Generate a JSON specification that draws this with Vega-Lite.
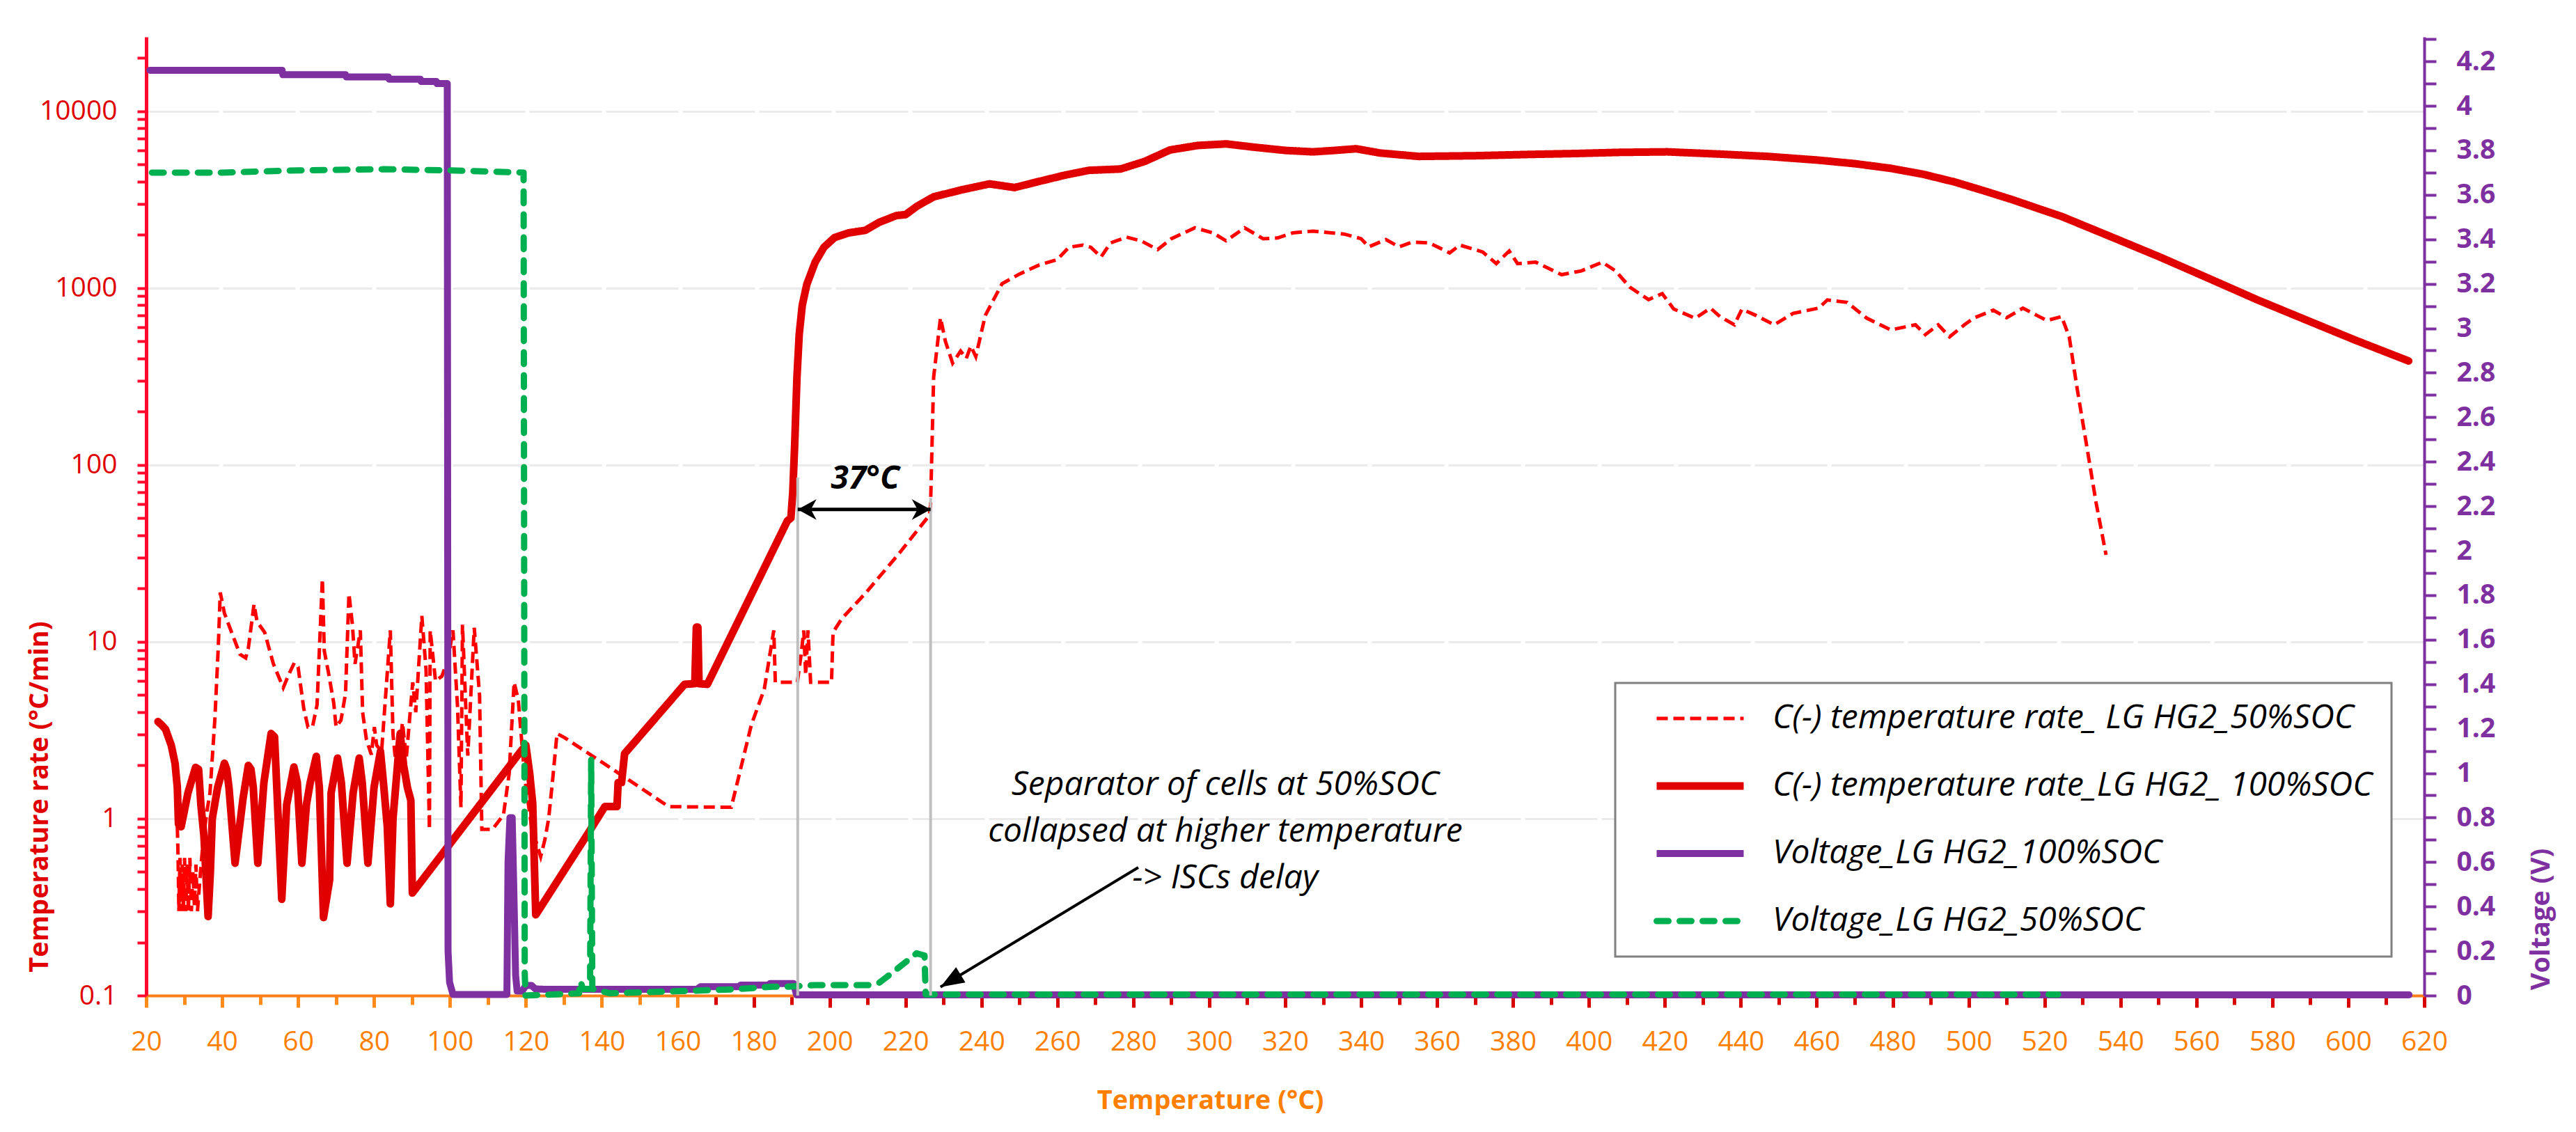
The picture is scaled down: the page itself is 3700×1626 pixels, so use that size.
{
  "$schema": "https://vega.github.io/schema/vega-lite/v6.json",
  "description": "C(-) temperature rate and voltage of LG HG2 cells at 50% and 100% SOC versus temperature.",
  "width": 3272,
  "height": 1377,
  "autosize": {"type": "none"},
  "padding": {"left": 210, "top": 53, "right": 218, "bottom": 196},
  "background": "white",
  "config": {
    "font": "Open Sans",
    "view": {"stroke": null},
    "axis": {"labelFont": "Open Sans", "titleFont": "Open Sans"},
    "legend": {"labelFont": "Open Sans"},
    "text": {"font": "Open Sans"}
  },
  "datasets": {
    "rate": [
      {"s": "A", "t": 28.2, "v": 0.9}, {"s": "A", "t": 28.4, "v": 0.6}, {"s": "A", "t": 28.6, "v": 0.3},
      {"s": "A", "t": 28.9, "v": 0.6}, {"s": "A", "t": 29.2, "v": 0.3}, {"s": "A", "t": 29.5, "v": 0.55},
      {"s": "A", "t": 29.8, "v": 0.3}, {"s": "A", "t": 30.1, "v": 0.6}, {"s": "A", "t": 30.4, "v": 0.3},
      {"s": "A", "t": 30.8, "v": 0.55}, {"s": "A", "t": 31.1, "v": 0.3}, {"s": "A", "t": 31.5, "v": 0.6},
      {"s": "A", "t": 31.9, "v": 0.3}, {"s": "A", "t": 32.3, "v": 0.5}, {"s": "A", "t": 32.7, "v": 0.32},
      {"s": "A", "t": 33.1, "v": 0.55}, {"s": "A", "t": 33.5, "v": 0.3}, {"s": "A", "t": 34.3, "v": 0.5},
      {"s": "A", "t": 35.0, "v": 0.75}, {"s": "A", "t": 36.0, "v": 1.1}, {"s": "A", "t": 36.8, "v": 1.4},
      {"s": "A", "t": 38.1, "v": 3.7}, {"s": "A", "t": 39.0, "v": 9.5}, {"s": "A", "t": 39.5, "v": 19},
      {"s": "A", "t": 40.6, "v": 14.5}, {"s": "A", "t": 42.7, "v": 11}, {"s": "A", "t": 44.7, "v": 8.5},
      {"s": "A", "t": 46.2, "v": 8.1}, {"s": "A", "t": 46.9, "v": 9.2}, {"s": "A", "t": 48.4, "v": 16.3},
      {"s": "A", "t": 49.2, "v": 13}, {"s": "A", "t": 51.2, "v": 11.3}, {"s": "A", "t": 53.5, "v": 7.5},
      {"s": "A", "t": 56.1, "v": 5.5}, {"s": "A", "t": 57.5, "v": 6.5}, {"s": "A", "t": 59.0, "v": 7.6},
      {"s": "A", "t": 60.0, "v": 7.2}, {"s": "A", "t": 61.5, "v": 4.2}, {"s": "A", "t": 62.6, "v": 3.3},
      {"s": "A", "t": 63.8, "v": 3.3}, {"s": "A", "t": 65.0, "v": 4.4}, {"s": "A", "t": 66.4, "v": 22.7},
      {"s": "A", "t": 66.9, "v": 8.9}, {"s": "A", "t": 68.0, "v": 6.7}, {"s": "A", "t": 69.4, "v": 4.5},
      {"s": "A", "t": 70.0, "v": 3.3}, {"s": "A", "t": 71.3, "v": 3.6}, {"s": "A", "t": 72.5, "v": 5.1},
      {"s": "A", "t": 73.4, "v": 18.7}, {"s": "A", "t": 74.3, "v": 12.6}, {"s": "A", "t": 75.0, "v": 7.5},
      {"s": "A", "t": 76.4, "v": 11.6}, {"s": "A", "t": 77.0, "v": 4}, {"s": "A", "t": 78.0, "v": 2.8},
      {"s": "A", "t": 79.3, "v": 2.3}, {"s": "A", "t": 80.1, "v": 3.3}, {"s": "A", "t": 80.7, "v": 2.6},
      {"s": "A", "t": 82.0, "v": 2.4}, {"s": "A", "t": 84.3, "v": 11.6}, {"s": "A", "t": 85.0, "v": 3},
      {"s": "A", "t": 86.0, "v": 1.8}, {"s": "A", "t": 87.5, "v": 3.5}, {"s": "A", "t": 88.5, "v": 2.2},
      {"s": "A", "t": 90.2, "v": 5.9}, {"s": "A", "t": 91.0, "v": 4}, {"s": "A", "t": 92.6, "v": 14},
      {"s": "A", "t": 93.7, "v": 7}, {"s": "A", "t": 94.6, "v": 0.87}, {"s": "A", "t": 94.8, "v": 11.6},
      {"s": "A", "t": 96.2, "v": 6}, {"s": "A", "t": 97.9, "v": 6.4}, {"s": "A", "t": 99.5, "v": 8},
      {"s": "A", "t": 100.8, "v": 11.6}, {"s": "A", "t": 102.0, "v": 4.3}, {"s": "A", "t": 102.9, "v": 1.16},
      {"s": "A", "t": 103.3, "v": 12.5}, {"s": "A", "t": 104.7, "v": 2.27}, {"s": "A", "t": 106.4, "v": 12},
      {"s": "A", "t": 107.8, "v": 5}, {"s": "A", "t": 108.4, "v": 0.87}, {"s": "A", "t": 111.2, "v": 0.87},
      {"s": "A", "t": 114.1, "v": 1.05}, {"s": "A", "t": 115.6, "v": 1.8}, {"s": "A", "t": 116.9, "v": 5.9},
      {"s": "A", "t": 118.0, "v": 4.7}, {"s": "A", "t": 119.7, "v": 1.7}, {"s": "A", "t": 121.5, "v": 0.9},
      {"s": "A", "t": 123.9, "v": 0.61}, {"s": "A", "t": 125.0, "v": 0.76}, {"s": "A", "t": 126.0, "v": 1.0},
      {"s": "A", "t": 127.1, "v": 1.7}, {"s": "A", "t": 128.2, "v": 3.03}, {"s": "A", "t": 130.2, "v": 2.87},
      {"s": "A", "t": 145.6, "v": 1.74}, {"s": "A", "t": 157.6, "v": 1.17}, {"s": "A", "t": 174.1, "v": 1.16},
      {"s": "A", "t": 179.4, "v": 3.4}, {"s": "A", "t": 182.8, "v": 5.4}, {"s": "A", "t": 185.3, "v": 11.6},
      {"s": "A", "t": 185.7, "v": 5.9}, {"s": "A", "t": 191.5, "v": 5.9}, {"s": "A", "t": 192.5, "v": 8.5},
      {"s": "A", "t": 193.2, "v": 11.6}, {"s": "A", "t": 193.7, "v": 6.5}, {"s": "A", "t": 194.3, "v": 11.6},
      {"s": "A", "t": 195.0, "v": 5.9}, {"s": "A", "t": 200.5, "v": 5.9}, {"s": "A", "t": 200.9, "v": 11.3},
      {"s": "A", "t": 203.2, "v": 13.5}, {"s": "A", "t": 209.6, "v": 19}, {"s": "A", "t": 218.0, "v": 31},
      {"s": "A", "t": 226.3, "v": 52}, {"s": "A", "t": 226.6, "v": 60}, {"s": "A", "t": 227.4, "v": 313},
      {"s": "A", "t": 229.2, "v": 680}, {"s": "A", "t": 230.5, "v": 500}, {"s": "A", "t": 232.4, "v": 376},
      {"s": "A", "t": 234.5, "v": 440}, {"s": "A", "t": 236.0, "v": 400}, {"s": "A", "t": 237.2, "v": 470},
      {"s": "A", "t": 238.5, "v": 410}, {"s": "A", "t": 241.0, "v": 700}, {"s": "A", "t": 245.4, "v": 1057},
      {"s": "A", "t": 250.0, "v": 1200}, {"s": "A", "t": 255.2, "v": 1350}, {"s": "A", "t": 260.0, "v": 1450},
      {"s": "A", "t": 263.0, "v": 1700}, {"s": "A", "t": 266.7, "v": 1750}, {"s": "A", "t": 268.8, "v": 1700},
      {"s": "A", "t": 271.5, "v": 1500}, {"s": "A", "t": 274.0, "v": 1800}, {"s": "A", "t": 278.2, "v": 1940},
      {"s": "A", "t": 282.0, "v": 1850}, {"s": "A", "t": 286.4, "v": 1650}, {"s": "A", "t": 290.0, "v": 1900},
      {"s": "A", "t": 296.2, "v": 2190}, {"s": "A", "t": 301.0, "v": 2050}, {"s": "A", "t": 304.4, "v": 1850},
      {"s": "A", "t": 309.3, "v": 2190}, {"s": "A", "t": 314.2, "v": 1900}, {"s": "A", "t": 318.0, "v": 1920},
      {"s": "A", "t": 322.0, "v": 2050}, {"s": "A", "t": 327.3, "v": 2100}, {"s": "A", "t": 335.5, "v": 2020},
      {"s": "A", "t": 340.0, "v": 1900}, {"s": "A", "t": 342.0, "v": 1710}, {"s": "A", "t": 346.5, "v": 1880},
      {"s": "A", "t": 350.0, "v": 1710}, {"s": "A", "t": 353.5, "v": 1820}, {"s": "A", "t": 358.0, "v": 1800},
      {"s": "A", "t": 363.3, "v": 1580}, {"s": "A", "t": 366.0, "v": 1750}, {"s": "A", "t": 372.0, "v": 1600},
      {"s": "A", "t": 375.6, "v": 1375}, {"s": "A", "t": 379.0, "v": 1620}, {"s": "A", "t": 381.2, "v": 1375},
      {"s": "A", "t": 386.0, "v": 1400}, {"s": "A", "t": 392.8, "v": 1190}, {"s": "A", "t": 398.0, "v": 1250},
      {"s": "A", "t": 403.5, "v": 1400}, {"s": "A", "t": 407.0, "v": 1250}, {"s": "A", "t": 410.8, "v": 1010},
      {"s": "A", "t": 415.7, "v": 860}, {"s": "A", "t": 419.3, "v": 930}, {"s": "A", "t": 422.3, "v": 762},
      {"s": "A", "t": 428.0, "v": 675}, {"s": "A", "t": 432.0, "v": 770}, {"s": "A", "t": 434.5, "v": 690},
      {"s": "A", "t": 438.3, "v": 620}, {"s": "A", "t": 440.3, "v": 760}, {"s": "A", "t": 444.0, "v": 700},
      {"s": "A", "t": 448.8, "v": 620}, {"s": "A", "t": 453.8, "v": 720}, {"s": "A", "t": 460.5, "v": 770},
      {"s": "A", "t": 462.8, "v": 857}, {"s": "A", "t": 468.0, "v": 830}, {"s": "A", "t": 473.1, "v": 677},
      {"s": "A", "t": 479.5, "v": 580}, {"s": "A", "t": 486.0, "v": 620}, {"s": "A", "t": 488.6, "v": 545},
      {"s": "A", "t": 492.0, "v": 620}, {"s": "A", "t": 495.0, "v": 530}, {"s": "A", "t": 498.9, "v": 620},
      {"s": "A", "t": 501.4, "v": 677}, {"s": "A", "t": 506.5, "v": 750}, {"s": "A", "t": 510.0, "v": 680},
      {"s": "A", "t": 514.3, "v": 770}, {"s": "A", "t": 518.0, "v": 700}, {"s": "A", "t": 520.6, "v": 655},
      {"s": "A", "t": 524.5, "v": 690}, {"s": "A", "t": 526.5, "v": 530}, {"s": "A", "t": 528.5, "v": 277},
      {"s": "A", "t": 531.0, "v": 132}, {"s": "A", "t": 533.6, "v": 60.7}, {"s": "A", "t": 536.2, "v": 31},

      {"s": "B", "t": 23.1, "v": 3.54}, {"s": "B", "t": 24.0, "v": 3.4}, {"s": "B", "t": 25.1, "v": 3.2},
      {"s": "B", "t": 25.8, "v": 2.9}, {"s": "B", "t": 26.6, "v": 2.6}, {"s": "B", "t": 27.6, "v": 2.05},
      {"s": "B", "t": 28.2, "v": 1.5}, {"s": "B", "t": 28.5, "v": 0.93}, {"s": "B", "t": 29.2, "v": 0.9},
      {"s": "B", "t": 31.0, "v": 1.4}, {"s": "B", "t": 33.0, "v": 1.95}, {"s": "B", "t": 33.8, "v": 1.9},
      {"s": "B", "t": 34.4, "v": 1.2}, {"s": "B", "t": 35.2, "v": 0.8}, {"s": "B", "t": 36.3, "v": 0.28},
      {"s": "B", "t": 36.9, "v": 0.5}, {"s": "B", "t": 37.4, "v": 1.0}, {"s": "B", "t": 38.8, "v": 1.5},
      {"s": "B", "t": 40.6, "v": 2.06}, {"s": "B", "t": 41.2, "v": 1.9}, {"s": "B", "t": 41.8, "v": 1.5},
      {"s": "B", "t": 43.4, "v": 0.56}, {"s": "B", "t": 45.5, "v": 1.3}, {"s": "B", "t": 46.9, "v": 2.0},
      {"s": "B", "t": 47.6, "v": 1.9}, {"s": "B", "t": 48.2, "v": 1.5}, {"s": "B", "t": 49.4, "v": 0.56},
      {"s": "B", "t": 51.0, "v": 1.6}, {"s": "B", "t": 52.9, "v": 3.03}, {"s": "B", "t": 53.8, "v": 2.9},
      {"s": "B", "t": 54.4, "v": 1.5}, {"s": "B", "t": 55.7, "v": 0.35}, {"s": "B", "t": 57.0, "v": 1.2},
      {"s": "B", "t": 58.9, "v": 1.96}, {"s": "B", "t": 59.8, "v": 1.6}, {"s": "B", "t": 61.0, "v": 0.56},
      {"s": "B", "t": 62.2, "v": 1.2}, {"s": "B", "t": 63.2, "v": 1.6}, {"s": "B", "t": 64.8, "v": 2.25},
      {"s": "B", "t": 65.6, "v": 1.5}, {"s": "B", "t": 66.7, "v": 0.276}, {"s": "B", "t": 68.3, "v": 0.45},
      {"s": "B", "t": 68.7, "v": 1.4}, {"s": "B", "t": 70.4, "v": 2.2}, {"s": "B", "t": 71.4, "v": 1.6},
      {"s": "B", "t": 72.9, "v": 0.56}, {"s": "B", "t": 74.5, "v": 1.4}, {"s": "B", "t": 76.1, "v": 2.2},
      {"s": "B", "t": 76.9, "v": 1.6}, {"s": "B", "t": 78.4, "v": 0.56}, {"s": "B", "t": 80.0, "v": 1.5},
      {"s": "B", "t": 81.7, "v": 2.4}, {"s": "B", "t": 82.6, "v": 1.5}, {"s": "B", "t": 83.5, "v": 0.9},
      {"s": "B", "t": 84.3, "v": 0.33}, {"s": "B", "t": 85.0, "v": 1.0}, {"s": "B", "t": 86.9, "v": 3.03},
      {"s": "B", "t": 87.8, "v": 2.0}, {"s": "B", "t": 88.8, "v": 1.5}, {"s": "B", "t": 89.7, "v": 1.27},
      {"s": "B", "t": 90.1, "v": 0.38}, {"s": "B", "t": 118.5, "v": 2.38}, {"s": "B", "t": 120.0, "v": 2.6},
      {"s": "B", "t": 121.0, "v": 1.8}, {"s": "B", "t": 121.8, "v": 1.22}, {"s": "B", "t": 122.6, "v": 0.286},
      {"s": "B", "t": 136.6, "v": 0.84}, {"s": "B", "t": 140.8, "v": 1.17}, {"s": "B", "t": 144.0, "v": 1.17},
      {"s": "B", "t": 144.3, "v": 1.6}, {"s": "B", "t": 145.2, "v": 1.6}, {"s": "B", "t": 146.0, "v": 2.33},
      {"s": "B", "t": 161.8, "v": 5.75}, {"s": "B", "t": 164.5, "v": 5.8}, {"s": "B", "t": 164.9, "v": 12.1},
      {"s": "B", "t": 165.3, "v": 12.1}, {"s": "B", "t": 165.6, "v": 5.8}, {"s": "B", "t": 167.8, "v": 5.75},
      {"s": "B", "t": 188.9, "v": 48.4}, {"s": "B", "t": 189.8, "v": 50}, {"s": "B", "t": 190.3, "v": 70},
      {"s": "B", "t": 190.8, "v": 130}, {"s": "B", "t": 191.4, "v": 313}, {"s": "B", "t": 192.0, "v": 550},
      {"s": "B", "t": 192.8, "v": 800}, {"s": "B", "t": 194.0, "v": 1050}, {"s": "B", "t": 196.2, "v": 1400},
      {"s": "B", "t": 198.5, "v": 1700}, {"s": "B", "t": 201.3, "v": 1930}, {"s": "B", "t": 205.0, "v": 2050},
      {"s": "B", "t": 209.4, "v": 2120}, {"s": "B", "t": 213.0, "v": 2350}, {"s": "B", "t": 217.6, "v": 2570},
      {"s": "B", "t": 220.0, "v": 2600}, {"s": "B", "t": 223.0, "v": 2900}, {"s": "B", "t": 227.4, "v": 3280},
      {"s": "B", "t": 235.0, "v": 3600}, {"s": "B", "t": 242.1, "v": 3880}, {"s": "B", "t": 248.7, "v": 3700},
      {"s": "B", "t": 255.0, "v": 4000}, {"s": "B", "t": 262.0, "v": 4350}, {"s": "B", "t": 268.3, "v": 4630},
      {"s": "B", "t": 276.6, "v": 4710}, {"s": "B", "t": 283.0, "v": 5200}, {"s": "B", "t": 289.6, "v": 6030},
      {"s": "B", "t": 297.0, "v": 6400}, {"s": "B", "t": 304.4, "v": 6530}, {"s": "B", "t": 312.0, "v": 6250},
      {"s": "B", "t": 320.0, "v": 6000}, {"s": "B", "t": 327.3, "v": 5890}, {"s": "B", "t": 333.0, "v": 6000},
      {"s": "B", "t": 338.7, "v": 6130}, {"s": "B", "t": 345.0, "v": 5800}, {"s": "B", "t": 355.1, "v": 5550},
      {"s": "B", "t": 370.0, "v": 5600}, {"s": "B", "t": 385.0, "v": 5700}, {"s": "B", "t": 396.1, "v": 5760},
      {"s": "B", "t": 408.0, "v": 5850}, {"s": "B", "t": 420.6, "v": 5890}, {"s": "B", "t": 434.4, "v": 5720},
      {"s": "B", "t": 447.0, "v": 5550}, {"s": "B", "t": 460.2, "v": 5290}, {"s": "B", "t": 470.0, "v": 5050},
      {"s": "B", "t": 479.5, "v": 4750}, {"s": "B", "t": 488.0, "v": 4400}, {"s": "B", "t": 496.3, "v": 3980},
      {"s": "B", "t": 504.0, "v": 3550}, {"s": "B", "t": 511.7, "v": 3150}, {"s": "B", "t": 518.0, "v": 2830},
      {"s": "B", "t": 524.5, "v": 2540}, {"s": "B", "t": 537.5, "v": 1950}, {"s": "B", "t": 550.3, "v": 1500},
      {"s": "B", "t": 563.2, "v": 1135}, {"s": "B", "t": 576.1, "v": 857}, {"s": "B", "t": 588.9, "v": 660},
      {"s": "B", "t": 601.8, "v": 508}, {"s": "B", "t": 615.9, "v": 387}
    ],
    "volt": [
      {"s": "C", "t": 21.0, "v": 4.16}, {"s": "C", "t": 55.8, "v": 4.16}, {"s": "C", "t": 56.0, "v": 4.14},
      {"s": "C", "t": 72.5, "v": 4.14}, {"s": "C", "t": 72.7, "v": 4.13}, {"s": "C", "t": 83.8, "v": 4.13},
      {"s": "C", "t": 84.0, "v": 4.12}, {"s": "C", "t": 92.2, "v": 4.12}, {"s": "C", "t": 92.4, "v": 4.11},
      {"s": "C", "t": 96.4, "v": 4.11}, {"s": "C", "t": 96.6, "v": 4.1}, {"s": "C", "t": 99.3, "v": 4.1},
      {"s": "C", "t": 99.5, "v": 0.2}, {"s": "C", "t": 99.9, "v": 0.06}, {"s": "C", "t": 100.8, "v": 0.005},
      {"s": "C", "t": 115.0, "v": 0.005}, {"s": "C", "t": 115.3, "v": 0.6}, {"s": "C", "t": 115.8, "v": 0.8},
      {"s": "C", "t": 116.4, "v": 0.8}, {"s": "C", "t": 116.8, "v": 0.5}, {"s": "C", "t": 117.3, "v": 0.09},
      {"s": "C", "t": 117.7, "v": 0.02}, {"s": "C", "t": 119.0, "v": 0.02}, {"s": "C", "t": 120.0, "v": 0.045},
      {"s": "C", "t": 121.5, "v": 0.045}, {"s": "C", "t": 122.5, "v": 0.03}, {"s": "C", "t": 125.3, "v": 0.028},
      {"s": "C", "t": 165.0, "v": 0.028}, {"s": "C", "t": 166.0, "v": 0.04}, {"s": "C", "t": 176.0, "v": 0.04},
      {"s": "C", "t": 176.6, "v": 0.047}, {"s": "C", "t": 184.0, "v": 0.047}, {"s": "C", "t": 184.3, "v": 0.054},
      {"s": "C", "t": 190.5, "v": 0.054}, {"s": "C", "t": 191.3, "v": 0.003}, {"s": "C", "t": 616.0, "v": 0.003},

      {"s": "D", "t": 21.5, "v": 3.7}, {"s": "D", "t": 40.0, "v": 3.7}, {"s": "D", "t": 60.0, "v": 3.71},
      {"s": "D", "t": 82.5, "v": 3.715}, {"s": "D", "t": 100.0, "v": 3.71}, {"s": "D", "t": 110.0, "v": 3.705},
      {"s": "D", "t": 119.4, "v": 3.7}, {"s": "D", "t": 119.7, "v": 0.1}, {"s": "D", "t": 119.9, "v": 0.0},
      {"s": "D", "t": 134.0, "v": 0.01}, {"s": "D", "t": 134.4, "v": 0.064}, {"s": "D", "t": 135.0, "v": 0.03},
      {"s": "D", "t": 136.9, "v": 0.03}, {"s": "D", "t": 137.2, "v": 1.06}, {"s": "D", "t": 137.5, "v": 0.03},
      {"s": "D", "t": 142.2, "v": 0.01}, {"s": "D", "t": 161.1, "v": 0.02}, {"s": "D", "t": 175.0, "v": 0.028},
      {"s": "D", "t": 185.0, "v": 0.04}, {"s": "D", "t": 189.2, "v": 0.04}, {"s": "D", "t": 196.2, "v": 0.047},
      {"s": "D", "t": 210.3, "v": 0.047}, {"s": "D", "t": 213.1, "v": 0.058}, {"s": "D", "t": 217.3, "v": 0.113},
      {"s": "D", "t": 222.9, "v": 0.19}, {"s": "D", "t": 225.0, "v": 0.18}, {"s": "D", "t": 225.3, "v": 0.005},
      {"s": "D", "t": 523.6, "v": 0.005}
    ]
  },
  "resolve": {"scale": {"y": "independent"}},
  "layer": [
    {
      "data": {"name": "rate"},
      "encoding": {
        "x": {
          "field": "t", "type": "quantitative",
          "scale": {"domain": [20, 620], "nice": false, "zero": false},
          "axis": {
            "title": "Temperature (°C)", "titleColor": "#FF7F00", "titleFontSize": 38, "titleFontWeight": "bold",
            "titleX": 1528, "titleY": 162, "titleAlign": "center", "titleBaseline": "alphabetic",
            "values": [20, 30, 40, 50, 60, 70, 80, 90, 100, 110, 120, 130, 140, 150, 160, 170, 180, 190, 200, 210, 220, 230, 240, 250, 260, 270, 280, 290, 300, 310, 320, 330, 340, 350, 360, 370, 380, 390, 400, 410, 420, 430, 440, 450, 460, 470, 480, 490, 500, 510, 520, 530, 540, 550, 560, 570, 580, 590, 600, 610, 620],
            "labelExpr": "datum.value % 20 === 0 ? format(datum.value, 'd') : ''",
            "labelColor": "#FF7F00", "labelFontSize": 39, "labelBaseline": "alphabetic", "labelPadding": 61,
            "labelOverlap": false, "labelFlush": false,
            "domainColor": "#FF7F1A", "domainWidth": 4, "tickWidth": 5,
            "tickColor": {"condition": {"test": "datum.value < 170", "value": "#FF8C1A"}, "value": "#D90000"},
            "tickSize": {"condition": {"test": "datum.value % 20 === 0", "value": 17}, "value": 13},
            "grid": false
          }
        },
        "y": {
          "field": "v", "type": "quantitative",
          "scale": {"type": "log", "domain": [0.1, 26300], "nice": false},
          "axis": {
            "orient": "left",
            "title": "Temperature rate (°C/min)", "titleColor": "#E00000", "titleFontSize": 38, "titleFontWeight": "bold",
            "titleAngle": 270, "titleX": -153, "titleY": 1091, "titleAlign": "center", "titleBaseline": "middle",
            "values": [0.1, 0.2, 0.3, 0.4, 0.5, 0.6, 0.7, 0.8, 0.9, 1, 2, 3, 4, 5, 6, 7, 8, 9, 10, 20, 30, 40, 50, 60, 70, 80, 90, 100, 200, 300, 400, 500, 600, 700, 800, 900, 1000, 2000, 3000, 4000, 5000, 6000, 7000, 8000, 9000, 10000, 20000],
            "labelExpr": "abs(log(datum.value) / LN10 - round(log(datum.value) / LN10)) < 0.001 ? format(datum.value, '~g') : ''",
            "labelColor": "#E00000", "labelFontSize": 39, "labelPadding": 29, "labelOverlap": false,
            "domainColor": "#FF0A2D", "domainWidth": 5, "tickColor": "#FF0A2D", "tickWidth": 4, "tickSize": 13,
            "grid": true, "gridColor": "#EBEBEB", "gridWidth": 3, "gridDash": [104, 6],
            "gridOpacity": {"condition": {"test": "abs(log(datum.value) / LN10 - round(log(datum.value) / LN10)) < 0.001", "value": 1}, "value": 0}
          }
        },
        "color": {
          "field": "s", "type": "nominal",
          "scale": {"domain": ["A", "B", "C", "D"], "range": ["#FF0000", "#E00000", "#7F30A0", "#00B050"]},
          "legend": {
            "orient": "none", "legendX": 2110, "legendY": 928, "title": null, "direction": "vertical",
            "labelExpr": "datum.label === 'A' ? 'C(-) temperature rate_ LG HG2_50%SOC' : datum.label === 'B' ? 'C(-) temperature rate_LG HG2_ 100%SOC' : datum.label === 'C' ? 'Voltage_LG HG2_100%SOC' : 'Voltage_LG HG2_50%SOC'",
            "labelFontSize": 48, "labelFontStyle": "italic", "labelColor": "black", "labelLimit": 2000, "labelOffset": 80,
            "symbolType": "stroke", "symbolSize": 15625, "symbolStrokeWidth": 8, "symbolOffset": 71,
            "rowPadding": 49, "padding": 27,
            "strokeColor": "#808080", "fillColor": "white",
            "encoding": {
              "legend": {"strokeWidth": {"value": 3}},
              "symbols": {
                "strokeWidth": {"value": {"expr": "datum.value === 'A' ? 5 : datum.value === 'B' ? 11 : datum.value === 'C' ? 10 : 9"}},
                "strokeCap": {"value": {"expr": "datum.value === 'D' ? 'round' : 'butt'"}}
              }
            }
          }
        },
        "strokeDash": {
          "field": "s", "type": "nominal",
          "scale": {"domain": ["A", "B", "C", "D"], "range": [[16, 8], [1, 0], [1, 0], [17, 16]]},
          "legend": {
            "orient": "none", "legendX": 2110, "legendY": 928, "title": null, "direction": "vertical",
            "labelExpr": "datum.label === 'A' ? 'C(-) temperature rate_ LG HG2_50%SOC' : datum.label === 'B' ? 'C(-) temperature rate_LG HG2_ 100%SOC' : datum.label === 'C' ? 'Voltage_LG HG2_100%SOC' : 'Voltage_LG HG2_50%SOC'",
            "labelFontSize": 48, "labelFontStyle": "italic", "labelColor": "black", "labelLimit": 2000, "labelOffset": 80,
            "symbolType": "stroke", "symbolSize": 15625, "symbolStrokeWidth": 8, "symbolOffset": 71,
            "rowPadding": 49, "padding": 27,
            "strokeColor": "#808080", "fillColor": "white"
          }
        }
      },
      "layer": [
        {
          "transform": [{"filter": "datum.s === 'A'"}],
          "mark": {"type": "line", "strokeWidth": 5, "strokeCap": "butt", "strokeJoin": "miter"}
        },
        {
          "transform": [{"filter": "datum.s === 'B'"}],
          "mark": {"type": "line", "strokeWidth": 11, "strokeCap": "round", "strokeJoin": "round"}
        }
      ]
    },
    {
      "data": {"name": "volt"},
      "encoding": {
        "x": {"field": "t", "type": "quantitative", "scale": {"domain": [20, 620], "nice": false, "zero": false}},
        "y": {
          "field": "v", "type": "quantitative",
          "scale": {"domain": [0, 4.31], "nice": false, "zero": false},
          "axis": {
            "orient": "right",
            "title": "Voltage (V)", "titleColor": "#7F30A0", "titleFontSize": 38, "titleFontWeight": "bold",
            "titleAngle": 270, "titleX": 168, "titleY": 1267, "titleAlign": "center", "titleBaseline": "middle",
            "values": [0, 0.1, 0.2, 0.3, 0.4, 0.5, 0.6, 0.7, 0.8, 0.9, 1, 1.1, 1.2, 1.3, 1.4, 1.5, 1.6, 1.7, 1.8, 1.9, 2, 2.1, 2.2, 2.3, 2.4, 2.5, 2.6, 2.7, 2.8, 2.9, 3, 3.1, 3.2, 3.3, 3.4, 3.5, 3.6, 3.7, 3.8, 3.9, 4, 4.1, 4.2, 4.3],
            "labelExpr": "abs(datum.value * 5 - round(datum.value * 5)) < 0.001 ? format(datum.value, '~g') : ''",
            "labelColor": "#7F30A0", "labelFontSize": 39, "labelFontWeight": "bold", "labelPadding": 29, "labelOverlap": false,
            "domainColor": "#7F30A0", "domainWidth": 4, "tickColor": "#7F30A0", "tickWidth": 4, "tickSize": 17,
            "grid": false
          }
        },
        "color": {
          "field": "s", "type": "nominal",
          "scale": {"domain": ["A", "B", "C", "D"], "range": ["#FF0000", "#E00000", "#7F30A0", "#00B050"]}
        },
        "strokeDash": {
          "field": "s", "type": "nominal",
          "scale": {"domain": ["A", "B", "C", "D"], "range": [[16, 8], [1, 0], [1, 0], [17, 16]]}
        }
      },
      "layer": [
        {
          "transform": [{"filter": "datum.s === 'C'"}],
          "mark": {"type": "line", "strokeWidth": 10, "strokeCap": "round", "strokeJoin": "round"}
        },
        {
          "transform": [{"filter": "datum.s === 'D'"}],
          "mark": {"type": "line", "strokeWidth": 9, "strokeCap": "round", "strokeJoin": "round"}
        }
      ]
    },
    {
      "encoding": {
        "x": {"field": "t", "type": "quantitative", "scale": {"domain": [20, 620], "nice": false, "zero": false}},
        "y": {"field": "v", "type": "quantitative", "scale": {"type": "log", "domain": [0.1, 26300], "nice": false}, "axis": null}
      },
      "layer": [
        {
          "data": {"values": [{"t": 191.6, "v": 0.1, "v2": 85}, {"t": 226.6, "v": 0.1, "v2": 65}]},
          "mark": {"type": "rule", "color": "#BFBFBF", "strokeWidth": 4},
          "encoding": {"y2": {"field": "v2"}}
        },
        {
          "data": {"values": [{"t": 191.6, "t2": 226.6, "v": 56}]},
          "mark": {"type": "rule", "color": "black", "strokeWidth": 5},
          "encoding": {"x2": {"field": "t2"}}
        },
        {
          "data": {"values": [{"t": 191.6, "v": 56}]},
          "mark": {"type": "point", "shape": "M0,0L0.55,1L0,0.7L-0.55,1Z", "size": 2916, "filled": true, "color": "black", "opacity": 1, "strokeWidth": 0, "angle": 270}
        },
        {
          "data": {"values": [{"t": 226.6, "v": 56}]},
          "mark": {"type": "point", "shape": "M0,0L0.55,1L0,0.7L-0.55,1Z", "size": 2916, "filled": true, "color": "black", "opacity": 1, "strokeWidth": 0, "angle": 90}
        },
        {
          "data": {"values": [{"t": 209.4, "v": 83, "label": "37°C"}]},
          "mark": {"type": "text", "fontSize": 46, "fontWeight": "bold", "fontStyle": "italic", "align": "center", "baseline": "middle", "color": "black"},
          "encoding": {"text": {"field": "label"}}
        },
        {
          "data": {"values": [{"t": 281.3, "v": 0.53, "t2": 229.2, "v2": 0.1117}]},
          "mark": {"type": "rule", "color": "black", "strokeWidth": 4},
          "encoding": {"x2": {"field": "t2"}, "y2": {"field": "v2"}}
        },
        {
          "data": {"values": [{"t": 229.2, "v": 0.1117}]},
          "mark": {"type": "point", "shape": "M0,0L0.38,1L-0.38,1Z", "size": 4624, "filled": true, "color": "black", "opacity": 1, "strokeWidth": 0, "angle": 238.8}
        },
        {
          "data": {"values": [{"t": 304.2, "v": 1.55}]},
          "mark": {
            "type": "text",
            "text": ["Separator of cells at 50%SOC", "collapsed at higher temperature", "-> ISCs delay"],
            "fontSize": 48, "fontStyle": "italic", "align": "center", "baseline": "middle", "lineHeight": 67, "color": "black"
          }
        }
      ]
    }
  ]
}
